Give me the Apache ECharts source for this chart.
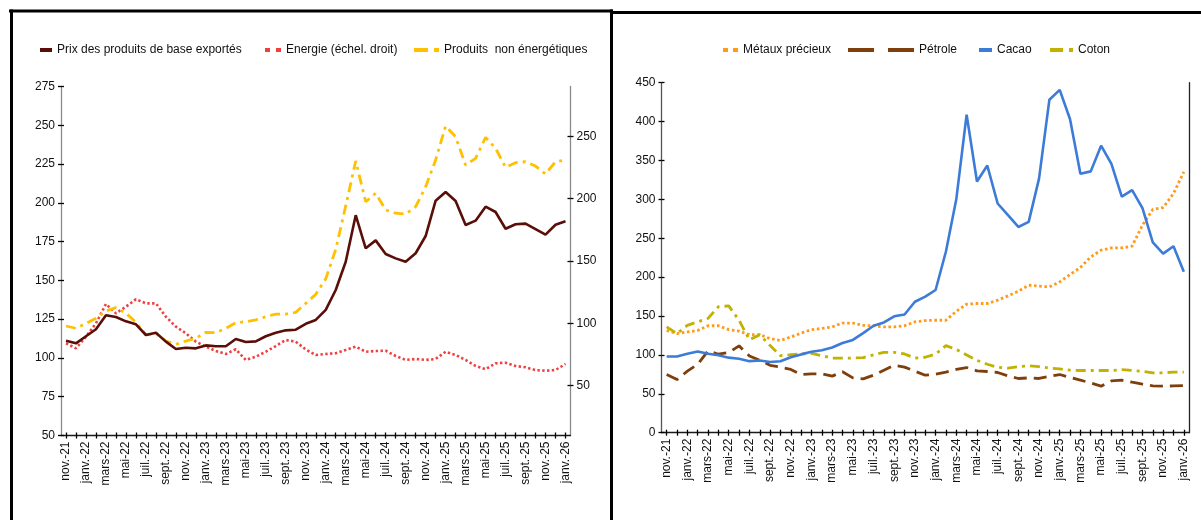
<!DOCTYPE html>
<html>
<head>
<meta charset="utf-8">
<script src="https://cdn.jsdelivr.net/npm/echarts@6/dist/echarts.min.js"></script>
<style>
  html, body { margin: 0; padding: 0; background: #fff; }
  #chart { width: 1201px; height: 520px; }
</style>
</head>
<body>
<div id="chart"></div>
<script>
// Monthly categories, nov. 2021 - janv. 2026
const months = [
  'nov.-21','déc.-21','janv.-22','févr.-22','mars-22','avr.-22','mai-22','juin-22','juil.-22','août-22','sept.-22','oct.-22',
  'nov.-22','déc.-22','janv.-23','févr.-23','mars-23','avr.-23','mai-23','juin-23','juil.-23','août-23','sept.-23','oct.-23',
  'nov.-23','déc.-23','janv.-24','févr.-24','mars-24','avr.-24','mai-24','juin-24','juil.-24','août-24','sept.-24','oct.-24',
  'nov.-24','déc.-24','janv.-25','févr.-25','mars-25','avr.-25','mai-25','juin-25','juil.-25','août-25','sept.-25','oct.-25',
  'nov.-25','déc.-25','janv.-26'
];

// Left panel: export commodity price indices
const prixBase = [111.1, 109.4, 114, 118.5, 127.5, 126.4, 123.6, 121.7, 114.8, 116.3, 110.5, 105.8,
  106.6, 106.2, 108.1, 107.5, 107.5, 112.2, 110.3, 110.7, 114, 116.3, 117.8, 118.2,
  122, 124.5, 131, 143.8, 162, 192, 170.7, 175.8, 167, 164.2, 162, 167.5,
  178.6, 201.4, 207, 201.2, 185.7, 188.5, 197.5, 194.1, 183.3, 186.2, 186.6, 183.1,
  179.5, 185.9, 188.1];
const energie = [84, 80, 89.3, 100, 115.5, 108, 113.3, 119.3, 116, 116, 105.3, 97.3,
  92, 85.3, 81.3, 77.8, 75.4, 79.2, 70.6, 73.2, 77.2, 81.8, 86.6, 85.3,
  79, 74.6, 75.4, 76, 78.6, 81.3, 77.2, 77.8, 78, 73.8, 70.6, 71.4,
  70.6, 71.4, 77.2, 74.6, 70.6, 65.8, 63.1, 67.9, 68.4, 65.8, 64.7, 62.5,
  62, 62.5, 67.4];
const nonEnergetiques = [120.6, 119.1, 122.3, 125.6, 130.3, 132.4, 128.8, 123, 114.8, 115.9, 110.9, 108.8,
  110.9, 112.7, 116.5, 116.3, 119.1, 122.7, 123.4, 124.5, 126.6, 128.3, 128.3, 129.4,
  135.2, 141, 151, 170, 198, 227, 200.7, 206.2, 195.4, 193.3, 192.8, 197.5,
  210.4, 227.6, 249.5, 242.6, 224.4, 228.7, 242.2, 235.2, 222.9, 225.9, 226.5, 223.7,
  218.6, 226.5, 227.6];

// Right panel: individual commodities
const metauxPrecieux = [131.5, 127.5, 129.5, 131.5, 137.5, 137.5, 132.5, 130.5, 126, 126, 121, 118.5,
  123, 128, 132.5, 134, 136, 141, 141, 138, 137.5, 136, 136, 137.5,
  142.5, 144.2, 144.6, 144.6, 156, 165.2, 166.1, 166.1, 170.4, 175.9, 181.9, 189.6,
  188.4, 187.5, 193.9, 203.4, 212.4, 226, 234.6, 237.6, 237.6, 239.8, 266.8, 287,
  289.5, 307.5, 335.3];
const petrole = [74.8, 68.3, 79.1, 87.9, 105.2, 100.9, 103, 111.7, 98.7, 93.1, 86.6, 84.3,
  81.3, 74.8, 75.7, 75.7, 72.7, 78.3, 70.5, 69.2, 74, 80.4, 86.6, 84.3,
  79.1, 73.9, 75.2, 77.8, 81.3, 83.8, 79.5, 78.7, 77.4, 73, 69.7, 70.5,
  69.7, 72.6, 74.8, 71, 67.5, 64, 59.8, 66.6, 67.5, 64.9, 62.4, 60.2,
  59.8, 60.2, 60.6];
const cacao = [98, 98, 101.5, 104.5, 101.5, 99.5, 96.5, 95, 92, 92.8, 90.8, 91.8,
  97, 100.7, 104, 106, 109.5, 115.3, 119.3, 128, 137.5, 141.8, 149.6, 152,
  168.4, 175, 183.5, 233, 300, 409, 323, 343.5, 294.7, 279.7, 264.5, 271,
  326.7, 428, 440.8, 403, 333, 336, 369, 345.5, 303.6, 312, 288.7, 244.7,
  230.3, 239.7, 207];
const coton = [136, 127.5, 138, 142.5, 147, 162, 163, 144.5, 119.5, 126, 112, 99,
  100.3, 101.2, 102, 99, 96, 96, 96, 96.5, 100, 103.3, 103.3, 101.2,
  96, 97, 101, 112, 107, 100, 93, 88, 84, 83, 85, 86,
  85, 83, 82, 80.5, 80, 80, 80, 80, 81, 80, 79, 77,
  77, 78, 78];

// Tick values of the right-hand scale (left panel)
const leftTicksRight = [50, 100, 150, 200, 250];

const FONT = "'Liberation Sans', Arial, sans-serif";
const lbl = { color: '#111', fontSize: 12, fontFamily: FONT };

function catAxis(gridIndex, inner) {
  return {
    type: 'category', gridIndex, position: 'bottom', data: months, boundaryGap: true,
    axisLine: { show: !inner, lineStyle: { color: '#1a1a1a', width: 1.3 } },
    axisTick: { show: true, inside: !!inner, interval: 0, alignWithLabel: true, length: 3,
      lineStyle: { color: '#000', width: 1.3 } },
    axisLabel: inner ? { show: false } : Object.assign({ interval: 1, rotate: 90, margin: 6 }, lbl),
    splitLine: { show: false }
  };
}

function valAxis(gridIndex, position, min, max, interval, lineColor, inner, custom) {
  const ax = {
    type: 'value', gridIndex, position, min, max,
    axisLine: { show: !inner, lineStyle: { color: lineColor, width: 1.3 } },
    axisTick: { show: true, inside: !!inner, length: 3, lineStyle: { color: '#000', width: 1.3 } },
    axisLabel: inner ? { show: false } : Object.assign({ margin: 6 }, lbl),
    splitLine: { show: false }
  };
  if (interval) ax.interval = interval;
  if (custom) {
    ax.axisTick.customValues = custom;
    ax.axisLabel.customValues = custom;
  }
  return ax;
}

const legendText = { color: '#111', fontSize: 12, fontFamily: FONT };
function legendItem(name, left, width, dash) {
  return {
    data: [name], left, top: 44, itemWidth: width, itemHeight: 8,
    textStyle: legendText, selectedMode: false, padding: 0,
    itemStyle: { opacity: 0 },
    lineStyle: { width: 4, type: dash || 'solid', cap: 'butt' }
  };
}

const option = {
  backgroundColor: '#fff',
  animation: false,
  grid: [
    { left: 61, top: 86.5, width: 509.5, height: 349 },
    { left: 661.5, top: 82.7, width: 527.5, height: 350 }
  ],
  legend: [
    legendItem('Prix des produits de base exportés', 38, 12),
    legendItem('Energie (échel. droit)', 263, 16, [5, 6]),
    legendItem('Produits  non énergétiques', 412, 25, [14, 6, 5, 100]),
    legendItem('Métaux précieux', 721, 15, [5, 5]),
    legendItem('Pétrole', 846, 66, [26, 14]),
    legendItem('Cacao', 977, 13),
    legendItem('Coton', 1048, 23, [13, 6, 4, 100])
  ],
  xAxis: [catAxis(0), catAxis(0, true), catAxis(1), catAxis(1, true)],
  yAxis: [
    valAxis(0, 'left', 50, 275, 25, '#8a8a8a'),
    valAxis(0, 'right', 10, 290, null, '#8a8a8a', false, leftTicksRight),
    valAxis(0, 'left', 50, 275, 25, '#8a8a8a', true),
    valAxis(0, 'right', 10, 290, null, '#8a8a8a', true, leftTicksRight),
    valAxis(1, 'left', 0, 450, 50, '#555'),
    valAxis(1, 'left', 0, 450, 50, '#555', true),
    {
      type: 'value', gridIndex: 1, position: 'right', min: 0, max: 450,
      axisLine: { show: true, lineStyle: { color: '#222', width: 1.3 } },
      axisTick: { show: false }, axisLabel: { show: false }, splitLine: { show: false }
    }
  ],
  series: [
    {
      name: 'Prix des produits de base exportés', type: 'line', xAxisIndex: 0, yAxisIndex: 0,
      data: prixBase, symbol: 'none', z: 4,
      lineStyle: { color: '#5a0e08', width: 2.6 }, itemStyle: { color: '#5a0e08' }
    },
    {
      name: 'Energie (échel. droit)', type: 'line', xAxisIndex: 0, yAxisIndex: 1,
      data: energie, symbol: 'none', z: 2,
      lineStyle: { color: '#ef4040', width: 2.6, type: [2.4, 2.4] }, itemStyle: { color: '#ef4040' }
    },
    {
      name: 'Produits  non énergétiques', type: 'line', xAxisIndex: 0, yAxisIndex: 0,
      data: nonEnergetiques, symbol: 'none', z: 3,
      lineStyle: { color: '#ffc000', width: 2.8, type: [10, 5, 3, 5] }, itemStyle: { color: '#ffc000' }
    },
    {
      name: 'Métaux précieux', type: 'line', xAxisIndex: 2, yAxisIndex: 4,
      data: metauxPrecieux, symbol: 'none', z: 2,
      lineStyle: { color: '#ff9a1a', width: 2.8, type: [2.6, 2.6] }, itemStyle: { color: '#ff9a1a' }
    },
    {
      name: 'Pétrole', type: 'line', xAxisIndex: 2, yAxisIndex: 4,
      data: petrole, symbol: 'none', z: 2,
      lineStyle: { color: '#7f3f0c', width: 2.8, type: [13, 7] }, itemStyle: { color: '#7f3f0c' }
    },
    {
      name: 'Cacao', type: 'line', xAxisIndex: 2, yAxisIndex: 4,
      data: cacao, symbol: 'none', z: 3,
      lineStyle: { color: '#3c7bd8', width: 2.6 }, itemStyle: { color: '#3c7bd8' }
    },
    {
      name: 'Coton', type: 'line', xAxisIndex: 2, yAxisIndex: 4,
      data: coton, symbol: 'none', z: 2,
      lineStyle: { color: '#c2b200', width: 2.8, type: [10, 5, 3, 5] }, itemStyle: { color: '#c2b200' }
    }
  ],
  graphic: [
    // panel frames
    { type: 'line', shape: { x1: 9, y1: 11, x2: 613, y2: 11 }, style: { stroke: '#000', lineWidth: 3 } },
    { type: 'line', shape: { x1: 611, y1: 12.5, x2: 1201, y2: 12.5 }, style: { stroke: '#000', lineWidth: 3 } },
    { type: 'line', shape: { x1: 11.5, y1: 9.5, x2: 11.5, y2: 520 }, style: { stroke: '#000', lineWidth: 3 } },
    { type: 'line', shape: { x1: 611.5, y1: 9.5, x2: 611.5, y2: 520 }, style: { stroke: '#000', lineWidth: 3 } }
  ]
};

const chart = echarts.init(document.getElementById('chart'), null, { renderer: 'canvas' });
chart.setOption(option);
</script>
</body>
</html>
